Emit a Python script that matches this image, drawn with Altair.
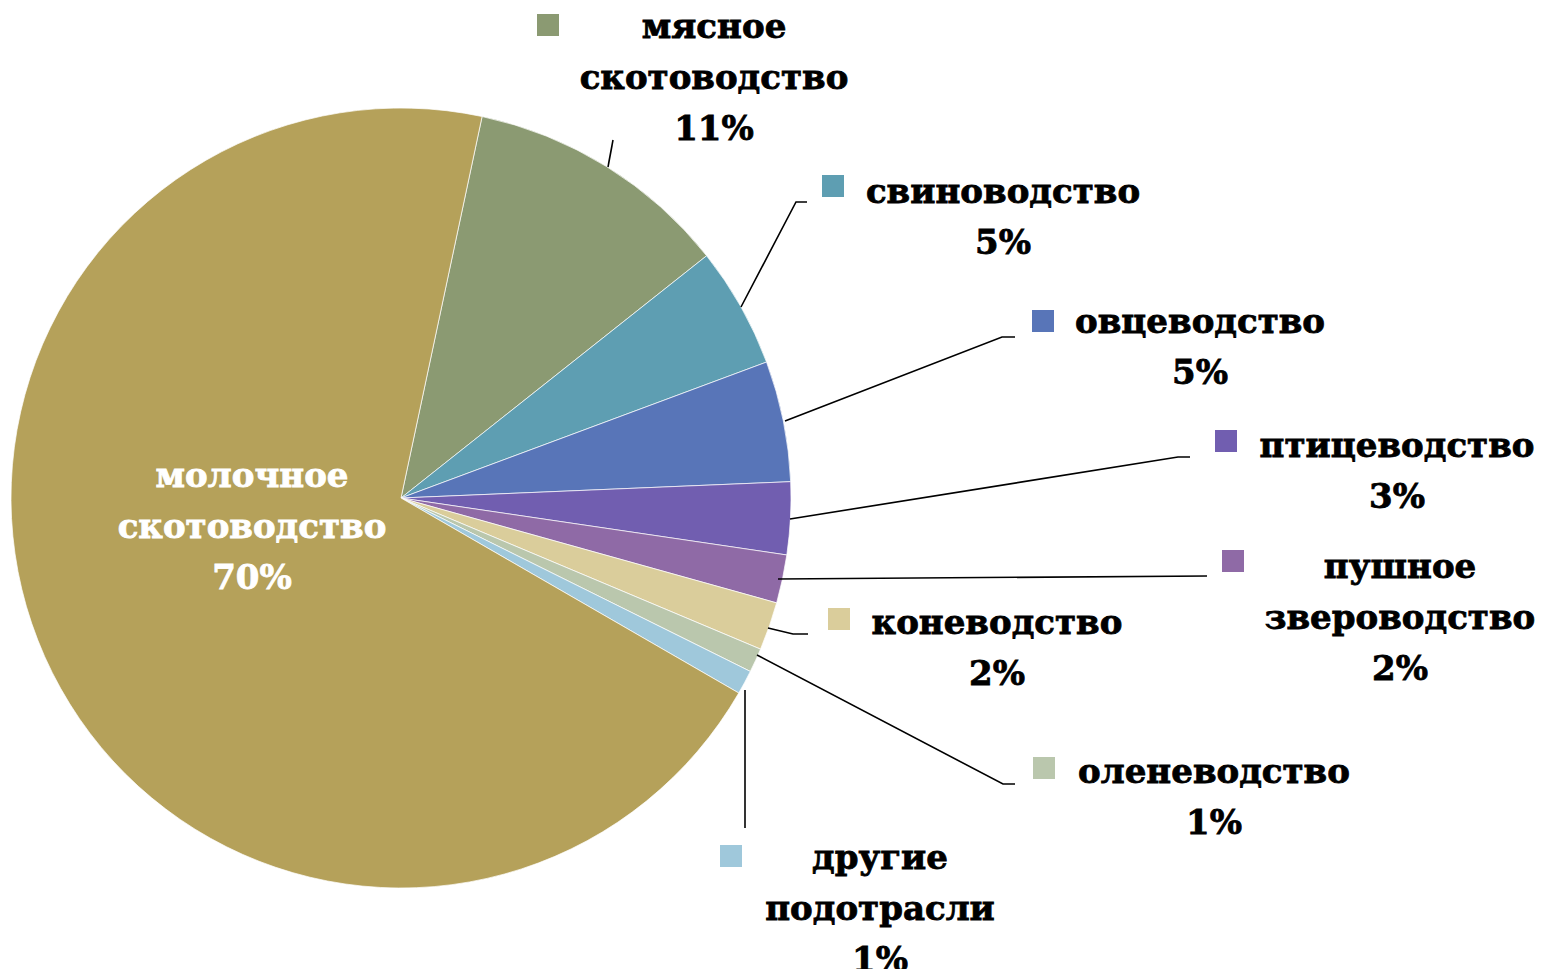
import math
import altair as alt
import pandas as pd

# ---- data ----
categories = ["мясное скотоводство", "свиноводство", "овцеводство", "птицеводство",
              "пушное звероводство", "коневодство", "оленеводство",
              "другие подотрасли", "молочное скотоводство"]
values = [11, 5, 5, 3, 2, 2, 1, 1, 70]
pct_labels = ["11%", "5%", "5%", "3%", "2%", "2%", "1%", "1%", "70%"]
label_lines = [["мясное", "скотоводство"], ["свиноводство"], ["овцеводство"], ["птицеводство"],
               ["пушное", "звероводство"], ["коневодство"], ["оленеводство"],
               ["другие", "подотрасли"], ["молочное", "скотоводство"]]
colors = ["#8B9A72", "#5E9EB2", "#5875B8", "#715EB0", "#8F6AA6",
          "#DACD9B", "#BAC7AD", "#9FC8DB", "#B5A15A"]

# ---- layout (pixels) ----
W, H = 1528, 961
CX, CY, R = 393, 490, 390
START = math.radians(12.0)
FS = 34
LINE = 51
label_x = [706, 995, 1192, 1389, 1392, 989, 1206, 872, 244]
label_y0 = [30, 195, 325, 449, 570, 626, 775, 861, 479]
text_colors = ["black"] * 8 + ["white"]
square_pos = [(540, 17), (825, 178), (1035, 313), (1218, 433), (1225, 553),
              (831, 611), (1036, 760), (723, 848)]
leaders = [
    [(600, 159), (605, 132)],
    [(733, 299), (788, 194), (799, 194)],
    [(777, 413), (994, 329), (1007, 329)],
    [(782, 511), (1170, 449), (1182, 449)],
    [(770, 571), (1199, 568)],
    [(760, 620), (785, 626), (800, 626)],
    [(749, 647), (995, 776), (1007, 776)],
    [(737, 682), (737, 820)],
]

pie_df = pd.DataFrame({"cat": categories, "value": values, "idx": list(range(len(categories)))})

text_rows = []
for i, cat in enumerate(categories):
    lines = label_lines[i] + [pct_labels[i]]
    for j, t in enumerate(lines):
        text_rows.append({"t": t, "x": label_x[i], "y": label_y0[i] + j * LINE, "c": text_colors[i]})
text_df = pd.DataFrame(text_rows)

sq_df = pd.DataFrame({"cat": categories[:8], "x": [p[0] for p in square_pos],
                      "y": [p[1] for p in square_pos]})

lead_rows = []
for i, pts in enumerate(leaders):
    for k, (x, y) in enumerate(pts):
        lead_rows.append({"seg": i, "k": k, "x": x, "y": y})
lead_df = pd.DataFrame(lead_rows)

color_scale = alt.Scale(domain=categories, range=colors)

pie = alt.Chart(pie_df).mark_arc(outerRadius=R, stroke="white", strokeWidth=0.7).encode(
    theta=alt.Theta("value:Q", stack=True, scale=alt.Scale(range=[START, START + 2 * math.pi])),
    color=alt.Color("cat:N", scale=color_scale, legend=None),
    order=alt.Order("idx:Q"),
    x=alt.value(CX),
    y=alt.value(CY),
)

lines = alt.Chart(lead_df).mark_line(color="black", strokeWidth=1.6).encode(
    x=alt.X("x:Q", scale=None, axis=None),
    y=alt.Y("y:Q", scale=None, axis=None),
    detail="seg:N",
    order="k:Q",
)

squares = alt.Chart(sq_df).mark_square(size=484, opacity=1, filled=True).encode(
    x=alt.X("x:Q", scale=None, axis=None),
    y=alt.Y("y:Q", scale=None, axis=None),
    color=alt.Color("cat:N", scale=color_scale, legend=None),
)

texts = alt.Chart(text_df).mark_text(font="DejaVu Serif", fontWeight="bold", fontSize=FS,
                                     align="center", baseline="alphabetic",
                                     strokeWidth=0.8).encode(
    x=alt.X("x:Q", scale=None, axis=None),
    y=alt.Y("y:Q", scale=None, axis=None),
    text="t:N",
    color=alt.Color("c:N", scale=None),
    stroke=alt.Stroke("c:N", scale=None),
)

chart = alt.layer(pie, lines, squares, texts).properties(
    width=W, height=H, padding=0, autosize=alt.AutoSizeParams(type="none"),
    background="white",
).configure_view(stroke=None)

chart.save("out.html", embed_options={"renderer": "svg", "actions": False})
